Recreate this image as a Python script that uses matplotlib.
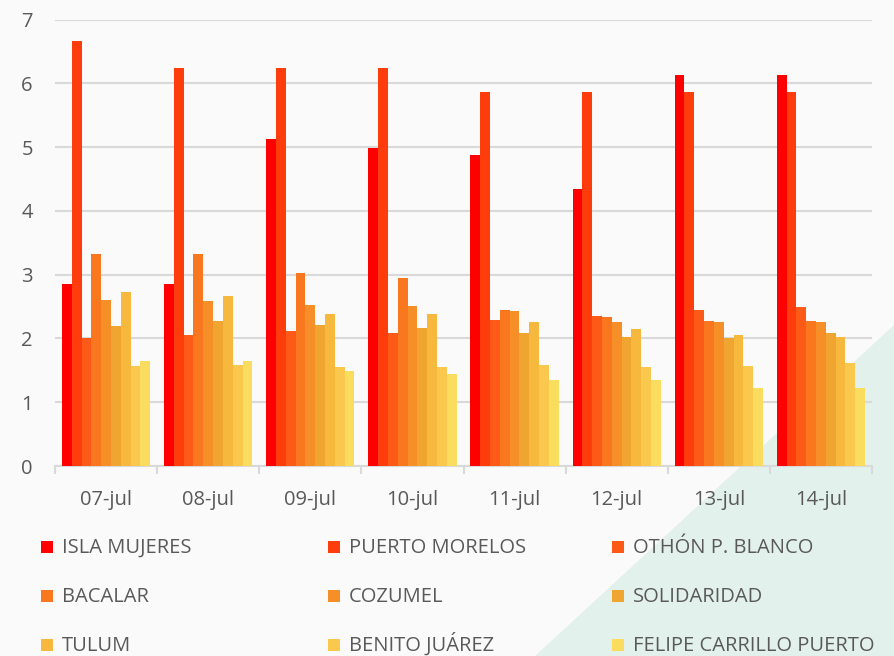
import matplotlib
matplotlib.use("Agg")
import matplotlib.pyplot as plt
from matplotlib.patches import Polygon, Rectangle
import numpy as np

dates = ["07-jul", "08-jul", "09-jul", "10-jul", "11-jul", "12-jul", "13-jul", "14-jul"]
series_names = ["ISLA MUJERES", "PUERTO MORELOS", "OTHÓN P. BLANCO",
                "BACALAR", "COZUMEL", "SOLIDARIDAD",
                "TULUM", "BENITO JUÁREZ", "FELIPE CARRILLO PUERTO"]
isla_mujeres     = [2.86, 2.86, 5.13, 4.99, 4.88, 4.34, 6.13, 6.13]
puerto_morelos   = [6.66, 6.24, 6.24, 6.24, 5.87, 5.87, 5.87, 5.87]
othon_p_blanco   = [2.00, 2.05, 2.11, 2.09, 2.29, 2.35, 2.45, 2.50]
bacalar          = [3.32, 3.32, 3.03, 2.94, 2.45, 2.33, 2.27, 2.27]
cozumel          = [2.60, 2.58, 2.52, 2.51, 2.43, 2.25, 2.25, 2.25]
solidaridad      = [2.20, 2.27, 2.21, 2.17, 2.09, 2.03, 2.00, 2.08]
tulum            = [2.73, 2.66, 2.39, 2.39, 2.25, 2.15, 2.05, 2.03]
benito_juarez    = [1.56, 1.59, 1.55, 1.55, 1.59, 1.55, 1.56, 1.61]
felipe_carrillo  = [1.64, 1.64, 1.49, 1.45, 1.35, 1.35, 1.22, 1.22]
values = [isla_mujeres, puerto_morelos, othon_p_blanco, bacalar, cozumel,
          solidaridad, tulum, benito_juarez, felipe_carrillo]
colors = ["#FF0000", "#FF3C0C", "#FC5A16", "#F9781F", "#F78F28",
          "#EFA52F", "#F6B83D", "#F9C84C", "#FADC5E"]

W, H = 894, 656
fig = plt.figure(figsize=(W / 100, H / 100), dpi=100)
fig.patch.set_facecolor("#FAFAFA")

# background layer (pixel coordinates, y downward)
bg = fig.add_axes([0, 0, 1, 1], zorder=-1)
bg.set_xlim(0, W)
bg.set_ylim(H, 0)
bg.axis("off")
bg.add_patch(Polygon([(W, 325), (535, H), (W, H)], closed=True,
                     facecolor="#E3F1EC", edgecolor="none"))

ax = fig.add_axes([55 / W, 1 - 466 / H, (872 - 55) / W, (466 - 19.5) / H])
ax.set_facecolor("none")

n = len(values)
group_w = 0.865
bw = group_w / n
x = np.arange(len(dates))
for i, (vals, c) in enumerate(zip(values, colors)):
    ax.bar(x - group_w / 2 + bw * (i + 0.5), vals, width=bw, color=c,
           edgecolor="none", zorder=3)

ax.set_xlim(-0.5, len(dates) - 0.5)
ax.set_ylim(0, 7)
ax.set_yticks(range(0, 8))
ax.yaxis.grid(True, color="#D9D9D9", linewidth=1.5, zorder=0)
ax.set_axisbelow(True)
for s in ["left", "right", "top"]:
    ax.spines[s].set_visible(False)
ax.spines["bottom"].set_color("#D9D9D9")
ax.spines["bottom"].set_linewidth(1.5)
ax.tick_params(axis="y", length=0, pad=16, labelsize=14.5, labelcolor="#595959")
ax.set_xticks(x)
ax.set_xticklabels(dates)
ax.tick_params(axis="x", which="major", length=0, pad=17, labelsize=14.5,
               labelcolor="#595959")
ax.set_xticks(np.arange(-0.5, len(dates) + 0.5, 1), minor=True)
ax.tick_params(axis="x", which="minor", length=6, width=1.5, color="#D9D9D9")
for lbl in ax.get_xticklabels() + ax.get_yticklabels():
    lbl.set_fontfamily(["Open Sans", "DejaVu Sans"])

# legend, row-major in 3 columns (pixel positions on background layer)
col_x = [41, 328, 612]
row_base = [553, 602, 651]
for i, (name, c) in enumerate(zip(series_names, colors)):
    r, cidx = divmod(i, 3)
    sx = col_x[cidx]
    by = row_base[r]
    bg.add_patch(Rectangle((sx, by - 12), 12, 12, facecolor=c, edgecolor="none"))
    bg.text(sx + 21, by, name, fontsize=14.5, color="#595959",
            va="baseline", ha="left", family=["Open Sans", "DejaVu Sans"])

fig.savefig("out.png", dpi=100, facecolor=fig.get_facecolor())
